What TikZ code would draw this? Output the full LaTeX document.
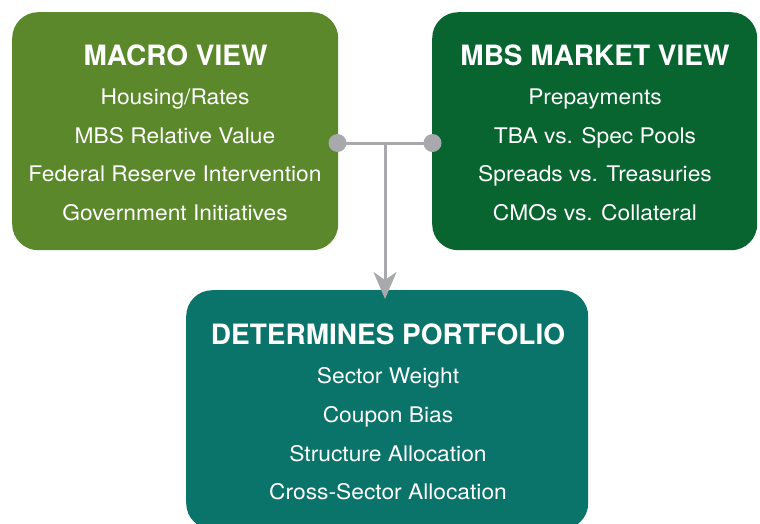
\documentclass[tikz,border=0pt]{standalone}
\usepackage{fontspec}
\setmainfont{TeX Gyre Heros}
\newfontfamily\bodyfont{TeX Gyre Heros}[FakeStretch=1.06]
\usetikzlibrary{arrows.meta}
\definecolor{macrogreen}{HTML}{5A882B}
\definecolor{marketgreen}{HTML}{08652F}
\definecolor{portteal}{HTML}{0A736A}
\definecolor{linkgray}{HTML}{A7A9AC}
\begin{document}
\begin{tikzpicture}[x=1pt,y=-1pt,
  panel/.style={rounded corners=26pt, inner sep=0pt, anchor=north west, draw=none},
  heading/.style={text=white, font=\bfseries\fontsize{28}{28}\selectfont, anchor=base, inner sep=0pt},
  item/.style={text=white, font=\bodyfont\fontsize{21.5}{21.5}\selectfont, anchor=base, inner sep=0pt},
  link/.style={draw=linkgray, line width=3pt},
  joint/.style={fill=linkgray}
]
\useasboundingbox (0,0) rectangle (760,523);
\clip (0,0) rectangle (760,523);

% panels
\node[panel, fill=macrogreen, minimum width=326pt, minimum height=238pt] (macro) at (12,12) {};
\node[panel, fill=marketgreen, minimum width=325pt, minimum height=238pt] (market) at (432,12) {};
\node[panel, fill=portteal, minimum width=402pt, minimum height=239pt] (port) at (186,290) {};

% macro view
\node[heading] (macroT) at (175.5,65.5) {MACRO VIEW};
\node[item] (macro1) at (175,104.5) {Housing/Rates};
\node[item] (macro2) at (175,143) {MBS Relative Value};
\node[item] (macro3) at (175,181.5) {Federal Reserve Intervention};
\node[item] (macro4) at (175,220) {Government Initiatives};

% market view
\node[heading] (marketT) at (595,65.5) {MBS MARKET VIEW};
\node[item] (market1) at (595,104.5) {Prepayments};
\node[item] (market2) at (595,143) {TBA vs. Spec Pools};
\node[item] (market3) at (595,181.5) {Spreads vs. Treasuries};
\node[item] (market4) at (595,220) {CMOs vs. Collateral};

% portfolio
\node[heading] (portT) at (388,344.3) {DETERMINES PORTFOLIO};
\node[item] (port1) at (388,383.3) {Sector Weight};
\node[item] (port2) at (388,422.3) {Coupon Bias};
\node[item] (port3) at (388,461) {Structure Allocation};
\node[item] (port4) at (388,499.5) {Cross-Sector Allocation};

% connector
\coordinate (dotL) at (337.5,143);
\coordinate (dotR) at (432.5,143);
\coordinate (split) at (385,143);
\coordinate (tip) at (385,299);
\draw[link] (dotL) -- (dotR);
\draw[link, -{Stealth[length=27pt,width=23pt,inset=8pt]}] (split) -- (tip);
\fill[joint] (dotL) circle (9pt);
\fill[joint] (dotR) circle (9pt);
\end{tikzpicture}
\end{document}
